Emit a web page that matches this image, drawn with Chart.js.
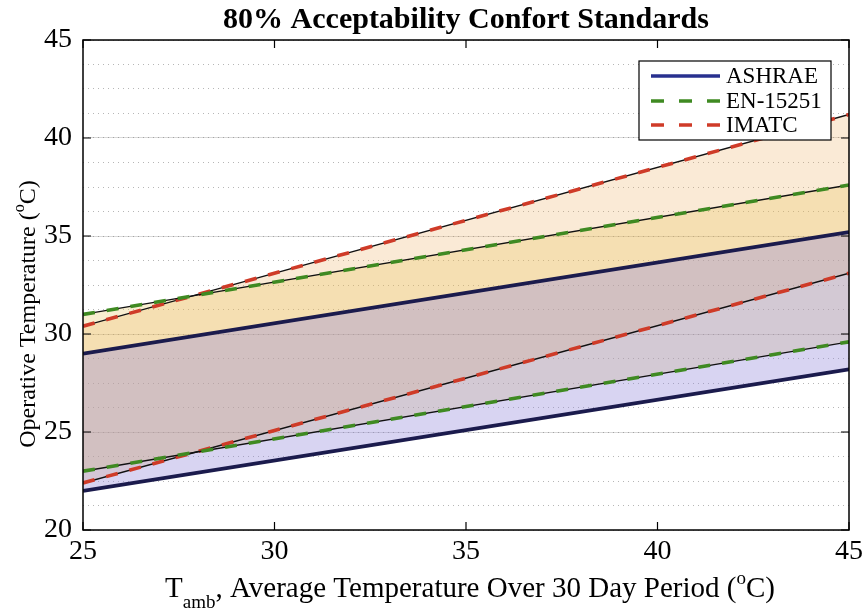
<!DOCTYPE html>
<html>
<head>
<meta charset="utf-8">
<script src="https://cdn.jsdelivr.net/npm/chart.js@4.4.1/dist/chart.umd.min.js"></script>
<style>
  html, body { margin: 0; padding: 0; background: #ffffff; }
  #wrap { width: 868px; height: 615px; position: relative; }
</style>
</head>
<body>
<div id="wrap"><canvas id="c"></canvas></div>
<script>
// Mean outdoor temperature (°C) at the ends of the range
const tAmb = [25, 45];

// 80 % acceptability limits of operative temperature (°C)
const ashraeUpper = [29.0, 35.2];
const ashraeLower = [22.0, 28.2];
const enUpper = [31.0, 37.6];
const enLower = [23.0, 29.6];
const imatcUpper = [30.4, 41.2];
const imatcLower = [22.4, 33.1];

const xTicks = [25, 30, 35, 40, 45];
const yTicks = [20, 25, 30, 35, 40, 45];
const legendNames = ['ASHRAE', 'EN-15251', 'IMATC'];

const SERIF = '"Liberation Serif", "Times New Roman", serif';
const NAVY = '#1b1b4d';
const LEG_NAVY = '#28308f';
const GREEN = '#3f8a22';
const RED = '#cf3b28';

function pts(vals) {
  return tAmb.map((t, i) => ({ x: t, y: vals[i] }));
}

function solid(vals, color, width, fill, bg) {
  return {
    data: pts(vals), borderColor: color, borderWidth: width,
    pointRadius: 0, tension: 0, fill: fill === undefined ? false : fill,
    backgroundColor: bg || 'transparent'
  };
}
function dashed(vals, color, fill, bg) {
  const d = solid(vals, color, 3.6, fill, bg);
  d.borderDash = [12, 12];
  return d;
}

const datasets = [
  solid(ashraeUpper, NAVY, 3.8, 1, 'rgba(148,136,218,0.36)'),
  solid(ashraeLower, NAVY, 3.8),
  dashed(enUpper, GREEN, 4, 'rgba(228,192,80,0.27)'),
  solid(enUpper, '#111111', 1.4),
  dashed(enLower, GREEN),
  solid(enLower, '#111111', 1.4),
  dashed(imatcUpper, RED, 8, 'rgba(235,172,92,0.25)'),
  solid(imatcUpper, '#111111', 1.4),
  dashed(imatcLower, RED),
  solid(imatcLower, '#111111', 1.4)
];

const legendStyles = [
  { color: LEG_NAVY, dash: [] },
  { color: GREEN, dash: [13, 15] },
  { color: RED, dash: [13, 15] }
];

// Draws text pieces in sequence; pieces may be raised or lowered
function drawRich(ctx, parts, x, y, align) {
  let total = 0;
  parts.forEach(p => { ctx.font = p.font; p.w = ctx.measureText(p.t).width; total += p.w; });
  let cx = align === 'center' ? x - total / 2 : x;
  parts.forEach(p => {
    ctx.font = p.font;
    ctx.fillText(p.t, cx, y + (p.dy || 0));
    cx += p.w;
  });
}

const decor = {
  id: 'decor',
  afterDraw(chart) {
    const ctx = chart.ctx;
    const a = chart.chartArea;
    const xs = chart.scales.x, ys = chart.scales.y;
    ctx.save();
    // axes box
    ctx.strokeStyle = '#000';
    ctx.lineWidth = 1.5;
    ctx.setLineDash([]);
    ctx.strokeRect(a.left, a.top, a.right - a.left, a.bottom - a.top);
    // inward tick marks
    ctx.lineWidth = 1.2;
    ctx.beginPath();
    xTicks.forEach(v => {
      const px = xs.getPixelForValue(v);
      ctx.moveTo(px, a.bottom); ctx.lineTo(px, a.bottom - 8);
      ctx.moveTo(px, a.top); ctx.lineTo(px, a.top + 8);
    });
    yTicks.forEach(v => {
      const py = ys.getPixelForValue(v);
      ctx.moveTo(a.left, py); ctx.lineTo(a.left + 8, py);
      ctx.moveTo(a.right, py); ctx.lineTo(a.right - 8, py);
    });
    ctx.stroke();

    // title
    ctx.fillStyle = '#000';
    ctx.textAlign = 'center';
    ctx.textBaseline = 'alphabetic';
    ctx.font = 'bold 30px ' + SERIF;
    ctx.fillText('80% Acceptability Confort Standards', (a.left + a.right) / 2, 28);

    // x axis title
    ctx.textAlign = 'left';
    const big = '29px ' + SERIF, small = '19px ' + SERIF;
    drawRich(ctx, [
      { t: 'T', font: big },
      { t: 'amb', font: small, dy: 11 },
      { t: ', Average Temperature Over 30 Day Period (', font: big },
      { t: 'o', font: small, dy: -13 },
      { t: 'C)', font: big }
    ], 470, 597, 'center');

    // y axis title
    const yBig = '24px ' + SERIF, ySmall = '16px ' + SERIF;
    ctx.save();
    ctx.translate(35, 314);
    ctx.rotate(-Math.PI / 2);
    drawRich(ctx, [
      { t: 'Operative Temperature (', font: yBig },
      { t: 'o', font: ySmall, dy: -11 },
      { t: 'C)', font: yBig }
    ], 0, 0, 'center');
    ctx.restore();

    // legend
    const lx = 639, ly = 61, lw = 192, lh = 79;
    ctx.fillStyle = '#fff';
    ctx.fillRect(lx, ly, lw, lh);
    ctx.strokeStyle = '#000';
    ctx.lineWidth = 1.2;
    ctx.strokeRect(lx, ly, lw, lh);
    const rows = [76, 101, 125];
    legendNames.forEach((name, i) => {
      const st = legendStyles[i];
      ctx.beginPath();
      ctx.strokeStyle = st.color;
      ctx.lineWidth = 3.6;
      ctx.setLineDash(st.dash);
      ctx.moveTo(651, rows[i]);
      ctx.lineTo(720, rows[i]);
      ctx.stroke();
      ctx.setLineDash([]);
      ctx.fillStyle = '#000';
      ctx.font = '23px ' + SERIF;
      ctx.textBaseline = 'middle';
      ctx.fillText(name, 726, rows[i] + 1);
    });
    ctx.restore();
  }
};

new Chart(document.getElementById('c'), {
  type: 'line',
  data: { datasets },
  options: {
    responsive: true,
    maintainAspectRatio: false,
    animation: false,
    events: [],
    layout: { padding: { top: 40, right: 15, left: 0, bottom: 0 } },
    plugins: {
      legend: { display: false },
      tooltip: { enabled: false },
      filler: { drawTime: 'beforeDatasetsDraw' }
    },
    scales: {
      x: {
        type: 'linear', min: 25, max: 45,
        ticks: { stepSize: 5, color: '#000', font: { family: SERIF, size: 28 }, padding: 5, maxRotation: 0 },
        grid: { display: false, drawTicks: false },
        border: { display: false },
        afterFit(s) { s.height = 85; }
      },
      yMinor: {
        type: 'linear', min: 20, max: 45, position: 'left', weight: 0,
        ticks: { display: false, stepSize: 1.25 },
        grid: { color: 'rgba(110,110,110,0.5)', lineWidth: 1, drawTicks: false },
        border: { display: false, dash: [1, 4] },
        afterFit(s) { s.width = 0; }
      },
      y: {
        type: 'linear', min: 20, max: 45, position: 'left', weight: 1,
        ticks: { stepSize: 5, color: '#000', font: { family: SERIF, size: 28 }, padding: 11 },
        grid: { color: 'rgba(120,120,120,0.28)', lineWidth: 1, drawTicks: false },
        border: { display: false },
        afterFit(s) { s.width = 83; }
      }
    }
  },
  plugins: [decor]
});
</script>
</body>
</html>
